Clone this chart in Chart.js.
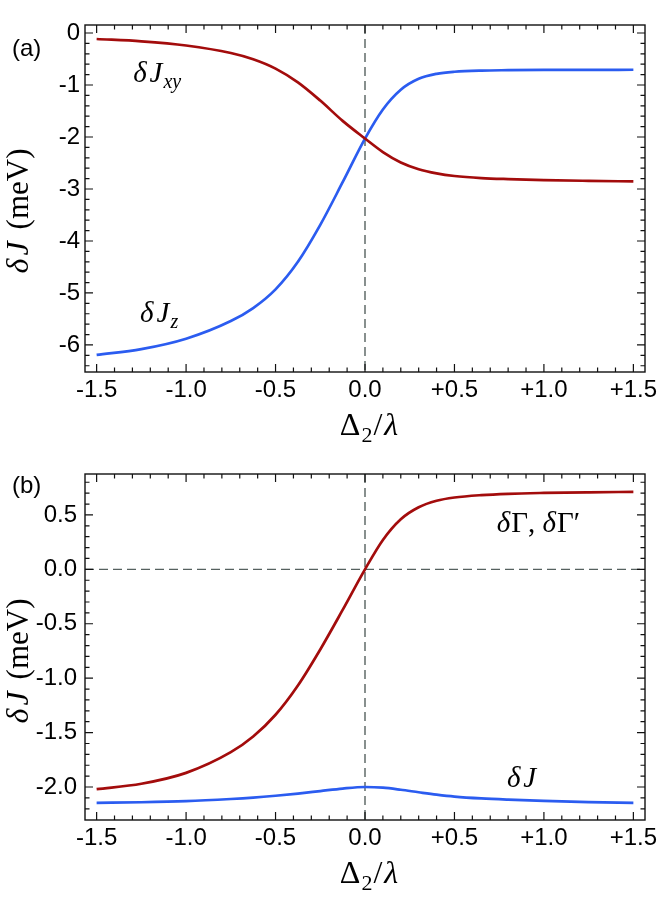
<!DOCTYPE html>
<html>
<head>
<meta charset="utf-8">
<script src="https://cdn.jsdelivr.net/npm/chart.js@4.4.0/dist/chart.umd.min.js"></script>
<style>
  body { margin: 0; background: #fff; }
  .panel { position: absolute; left: 0; width: 664px; }
</style>
</head>
<body>
<div class="panel" style="top:0;height:450px"><canvas id="chartA"></canvas></div>
<div class="panel" style="top:450px;height:469px"><canvas id="chartB"></canvas></div>
<script>
// sample points along Delta2/lambda
const xVals = [-1.5, -1.25, -1.0, -0.75, -0.625, -0.5, -0.375, -0.25, -0.125, 0,
               0.1, 0.2, 0.3, 0.4, 0.5, 0.65, 0.8, 1.0, 1.25, 1.5];

// panel (a)
const dJxy = [-0.115, -0.16, -0.24, -0.385, -0.505, -0.685, -0.95, -1.30, -1.69, -2.03,
              -2.29, -2.49, -2.62, -2.70, -2.75, -2.79, -2.81, -2.828, -2.843, -2.855];
const dJz  = [-6.19, -6.08, -5.88, -5.54, -5.29, -4.93, -4.40, -3.69, -2.87, -2.03,
              -1.47, -1.09, -0.88, -0.785, -0.745, -0.722, -0.715, -0.71, -0.708, -0.707];

// panel (b)
const dGamma = [-2.02, -1.97, -1.87, -1.68, -1.536, -1.336, -1.067, -0.736, -0.373, 0.0,
                0.27, 0.46, 0.57, 0.63, 0.66, 0.682, 0.694, 0.702, 0.708, 0.712];
const dJ     = [-2.145, -2.14, -2.13, -2.11, -2.097, -2.08, -2.06, -2.037, -2.014, -2.0,
                -2.006, -2.025, -2.048, -2.07, -2.088, -2.105, -2.116, -2.127, -2.138, -2.145];

// ticks
const xTicks = [-1.5, -1.0, -0.5, 0, 0.5, 1.0, 1.5];
const xTickLabels = ['-1.5', '-1.0', '-0.5', '0.0', '+0.5', '+1.0', '+1.5'];
const yTicksA = [0, -1, -2, -3, -4, -5, -6];
const yTickLabelsA = ['0', '-1', '-2', '-3', '-4', '-5', '-6'];
const yTicksB = [0.5, 0, -0.5, -1.0, -1.5, -2.0];
const yTickLabelsB = ['0.5', '0.0', '-0.5', '-1.0', '-1.5', '-2.0'];

const RED = '#a30c0c';
const BLUE = '#2b5cf0';
const SANS = '"Liberation Sans", Arial, sans-serif';
const SERIF = '"Liberation Serif", "Times New Roman", serif';

function pts(ys) {
  return xVals.map((x, i) => ({ x: x, y: ys[i] }));
}

// draws a run of differently styled text pieces, left to right
function drawPieces(ctx, pieces, x, y) {
  pieces.forEach(p => {
    ctx.font = p.font;
    x += p.pre || 0;
    ctx.fillText(p.t, x, y + (p.dy || 0));
    x += ctx.measureText(p.t).width;
  });
}
function piecesWidth(ctx, pieces) {
  let w = 0;
  pieces.forEach(p => { ctx.font = p.font; w += (p.pre || 0) + ctx.measureText(p.t).width; });
  return w;
}

const it = s => 'italic ' + s + 'px ' + SERIF;
const up = s => s + 'px ' + SERIF;

const yTitle = [
  { t: 'δ', font: it(32) }, { t: 'J', font: it(32), pre: 3 },
  { t: '(meV)', font: up(31), pre: 12 }
];
const xTitle = [
  { t: 'Δ', font: up(32) }, { t: '2', font: up(22), dy: 7, pre: 1 },
  { t: '/', font: up(32), pre: 1 }, { t: 'λ', font: it(32), pre: 2 }
];

const framePlugin = {
  id: 'frame',
  beforeDatasetsDraw(chart, args, o) {
    const { ctx, chartArea: a, scales: { x, y } } = chart;
    ctx.save();
    ctx.strokeStyle = '#56615f';
    ctx.lineWidth = 1.4;
    ctx.setLineDash([9, 5]);
    (o.vLines || []).forEach(v => {
      const px = x.getPixelForValue(v);
      ctx.beginPath(); ctx.moveTo(px, a.top); ctx.lineTo(px, a.bottom); ctx.stroke();
    });
    (o.hLines || []).forEach(v => {
      const py = y.getPixelForValue(v);
      ctx.beginPath(); ctx.moveTo(a.left, py); ctx.lineTo(a.right, py); ctx.stroke();
    });
    ctx.restore();
  },
  afterDraw(chart, args, o) {
    const { ctx, chartArea: a, scales: { x, y } } = chart;
    ctx.save();
    ctx.strokeStyle = '#111';
    ctx.lineWidth = 1.4;
    ctx.strokeRect(a.left, a.top, a.width, a.height);

    // inward ticks, all four sides
    ctx.lineWidth = 1.2;
    ctx.beginPath();
    for (let v = -1.5; v <= 1.5001; v += 0.1) {
      const px = x.getPixelForValue(v);
      const len = Math.abs(v * 2 - Math.round(v * 2)) < 1e-6 ? 8 : 4.5;
      ctx.moveTo(px, a.bottom); ctx.lineTo(px, a.bottom - len);
      ctx.moveTo(px, a.top); ctx.lineTo(px, a.top + len);
    }
    for (let v = o.yMinorStart; v >= o.yMinorEnd - 1e-6; v -= o.yMinorStep) {
      const py = y.getPixelForValue(v);
      const r = v / o.yMajorStep;
      const len = Math.abs(r - Math.round(r)) < 1e-6 ? 8 : 4.5;
      ctx.moveTo(a.left, py); ctx.lineTo(a.left + len, py);
      ctx.moveTo(a.right, py); ctx.lineTo(a.right - len, py);
    }
    ctx.stroke();

    ctx.fillStyle = '#000';
    ctx.textBaseline = 'alphabetic';
    ctx.textAlign = 'left';

    // panel letter
    ctx.font = '24px ' + SANS;
    ctx.fillText(o.letter, 12, a.top + o.letterDy);

    // y title, rotated
    const wy = piecesWidth(ctx, yTitle);
    ctx.save();
    ctx.translate(28, o.yTitleCenter);
    ctx.rotate(-Math.PI / 2);
    drawPieces(ctx, yTitle, -wy / 2, 0);
    ctx.restore();

    // x title
    const wx = piecesWidth(ctx, xTitle);
    drawPieces(ctx, xTitle, (a.left + a.right) / 2 + 4 - wx / 2, a.bottom + 63);

    // curve labels, anchored in data space
    (o.notes || []).forEach(n => {
      drawPieces(ctx, n.pieces, x.getPixelForValue(n.x), y.getPixelForValue(n.y));
    });
    ctx.restore();
  }
};

function makeChart(id, cfg) {
  return new Chart(document.getElementById(id), {
    type: 'line',
    data: {
      datasets: cfg.series.map(s => ({
        data: pts(s.data),
        borderColor: s.color,
        borderWidth: 2.7,
        pointRadius: 0,
        fill: false,
        cubicInterpolationMode: 'monotone'
      }))
    },
    options: {
      responsive: true,
      maintainAspectRatio: false,
      animation: false,
      layout: { padding: { top: cfg.padTop, right: 19, left: 0, bottom: 0 } },
      plugins: { legend: { display: false }, tooltip: { enabled: false }, frame: cfg.frame },
      scales: {
        x: {
          type: 'linear',
          min: -1.565, max: 1.565,
          grid: { display: false, drawTicks: false },
          border: { display: false },
          afterBuildTicks: s => { s.ticks = xTicks.map(v => ({ value: v })); },
          afterFit: s => { s.height = cfg.xHeight; },
          ticks: {
            autoSkip: false, maxRotation: 0, padding: 4, color: '#000',
            font: { family: SANS, size: 24 },
            callback: (v, i) => xTickLabels[i]
          }
        },
        y: {
          type: 'linear',
          min: cfg.yMin, max: cfg.yMax,
          grid: { display: false, drawTicks: false },
          border: { display: false },
          afterBuildTicks: s => { s.ticks = cfg.yTicks.map(v => ({ value: v })); },
          afterFit: s => { s.width = 85; },
          ticks: {
            autoSkip: false, padding: cfg.yPad, color: '#000',
            font: { family: SANS, size: 24 },
            callback: (v, i) => cfg.yLabels[i]
          }
        }
      }
    },
    plugins: [framePlugin]
  });
}

makeChart('chartA', {
  series: [{ data: dJxy, color: RED }, { data: dJz, color: BLUE }],
  padTop: 25, xHeight: 78, yMin: -6.52, yMax: 0.154, yPad: 5,
  yTicks: yTicksA, yLabels: yTickLabelsA,
  frame: {
    letter: '(a)', letterDy: 31, yTitleCenter: 211,
    yMinorStart: 0, yMinorEnd: -6.4, yMinorStep: 0.2, yMajorStep: 1,
    vLines: [0],
    notes: [
      { x: -1.296, y: -0.94, pieces: [{ t: 'δ', font: it(29) }, { t: 'J', font: it(29), pre: 3 }, { t: 'xy', font: it(20), dy: 6, pre: 1 }] },
      { x: -1.257, y: -5.56, pieces: [{ t: 'δ', font: it(29) }, { t: 'J', font: it(29), pre: 3 }, { t: 'z', font: it(20), dy: 6, pre: 1 }] }
    ]
  }
});

makeChart('chartB', {
  series: [{ data: dGamma, color: RED }, { data: dJ, color: BLUE }],
  padTop: 24, xHeight: 99, yMin: -2.303, yMax: 0.876, yPad: 8,
  yTicks: yTicksB, yLabels: yTickLabelsB,
  frame: {
    letter: '(b)', letterDy: 19, yTitleCenter: 211,
    yMinorStart: 0.8, yMinorEnd: -2.2, yMinorStep: 0.1, yMajorStep: 0.5,
    vLines: [0], hLines: [0],
    notes: [
      { x: 0.737, y: 0.342, pieces: [{ t: 'δ', font: it(29) }, { t: 'Γ', font: up(29), pre: 1 }, { t: ', ', font: up(29) }, { t: 'δ', font: it(29) }, { t: 'Γ′', font: up(29), pre: 1 }] },
      { x: 0.793, y: -2.0, pieces: [{ t: 'δ', font: it(29) }, { t: 'J', font: it(29), pre: 3 }] }
    ]
  }
});
</script>
</body>
</html>
